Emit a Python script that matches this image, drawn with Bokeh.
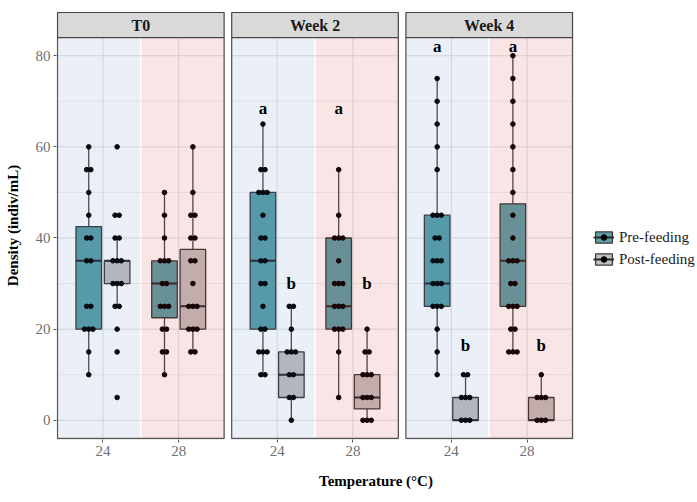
from collections import Counter
from bokeh.plotting import figure
from bokeh.models import ColumnDataSource, Range1d, FixedTicker, Legend, LegendItem
from bokeh.embed import file_html
from bokeh.resources import INLINE
from bokeh.core.properties import value

# ---------------- data ----------------
panels = ["T0", "Week 2", "Week 4"]
temps = ["24", "28"]
feeds = ["Pre-feeding", "Post-feeding"]

t0_24_pre = [60, 55, 55, 50, 45, 40, 40, 35, 35, 25, 25, 20, 20, 20, 15, 10]
t0_24_post = [60, 45, 45, 40, 40, 35, 35, 35, 30, 30, 30, 25, 25, 20, 15, 5]
t0_28_pre = [50, 45, 40, 35, 35, 35, 30, 30, 25, 25, 25, 20, 20, 15, 15, 10]
t0_28_post = [60, 50, 45, 45, 40, 40, 35, 35, 30, 25, 25, 25, 20, 20, 20, 15, 15]
w2_24_pre = [65, 55, 55, 50, 50, 50, 45, 40, 40, 35, 35, 30, 30, 25, 20, 20, 15, 15, 15, 10, 10]
w2_24_post = [25, 25, 20, 15, 15, 15, 10, 10, 5, 5, 0]
w2_28_pre = [55, 45, 40, 40, 40, 35, 30, 30, 30, 25, 25, 25, 20, 20, 20, 15, 5]
w2_28_post = [20, 15, 15, 10, 10, 10, 5, 5, 5, 0, 0, 0]
w4_24_pre = [75, 70, 65, 60, 55, 45, 45, 45, 40, 40, 35, 35, 35, 30, 30, 30, 25, 25, 25, 20, 15, 10]
w4_24_post = [10, 10, 5, 5, 5, 0, 0, 0]
w4_28_pre = [80, 75, 70, 65, 60, 55, 50, 45, 40, 35, 35, 35, 30, 30, 25, 25, 25, 20, 20, 15, 15, 15]
w4_28_post = [10, 5, 5, 5, 0, 0, 0]

# group order: panel, temperature, feeding
group_keys = [(pa, t, f) for pa in panels for t in temps for f in feeds]
group_points = [t0_24_pre, t0_24_post, t0_28_pre, t0_28_post,
                w2_24_pre, w2_24_post, w2_28_pre, w2_28_post,
                w4_24_pre, w4_24_post, w4_28_pre, w4_28_post]

# box statistics
box_q1 = [20, 30, 22.5, 20, 20, 5, 20, 2.5, 25, 0, 25, 0]
box_med = [35, 35, 30, 25, 35, 10, 25, 5, 30, 0, 35, 0]
box_q3 = [42.5, 35, 35, 37.5, 50, 15, 40, 10, 45, 5, 47.5, 5]
box_lo = [10, 25, 10, 15, 10, 0, 5, 0, 10, 0, 15, 0]
box_hi = [60, 40, 50, 60, 65, 25, 55, 20, 75, 10, 80, 10]

# significance letters
letter_keys = [("Week 2", "24", "Pre-feeding"), ("Week 2", "24", "Post-feeding"),
               ("Week 2", "28", "Pre-feeding"), ("Week 2", "28", "Post-feeding"),
               ("Week 4", "24", "Pre-feeding"), ("Week 4", "24", "Post-feeding"),
               ("Week 4", "28", "Pre-feeding"), ("Week 4", "28", "Post-feeding")]
letter_text = ["a", "b", "a", "b", "a", "b", "a", "b"]
letter_y = [68.5, 30, 68.5, 30, 82, 16.5, 82, 16.5]

y_ticks = [0, 20, 40, 60, 80]
y_minor = [10, 30, 50, 70]

# ---------------- layout helpers ----------------
STEP = 10.0          # distance between the two temperatures
PANEL_OFF = 23.0     # panel width (22) + gap (1)
DODGE = 1.875
BOX_W = 3.375
Y_LO, Y_HI = -4.0, 84.0
STRIP_H = 5.486
PX_PER_UNIT = 7.574

def temp_x(pa, t):
    return STEP + temps.index(t) * STEP + panels.index(pa) * PANEL_OFF

def grp_x(pa, t, f):
    return temp_x(pa, t) + (-DODGE if f == feeds[0] else DODGE)

def panel_left(pa):
    return temp_x(pa, temps[0]) - 0.6 * STEP

def panel_right(pa):
    return temp_x(pa, temps[-1]) + 0.6 * STEP

SERIF = "Liberation Serif"
fill_col = {feeds[0]: "#5BA1A7", feeds[1]: "#C2C0BF"}

W, H = 697, 502
BL, BR = 56, 2
x0 = panel_left(panels[0]) - 0.132
x1 = x0 + (W - BL - BR) / PX_PER_UNIT   # frame extends right to hold the legend

p = figure(width=W, height=H, output_backend="svg", toolbar_location=None,
           x_range=Range1d(x0, x1),
           y_range=Range1d(Y_LO - 0.22, Y_HI + STRIP_H + 0.22),
           min_border_left=BL, min_border_right=BR, min_border_top=11, min_border_bottom=63)
p.outline_line_color = None
p.xgrid.visible = False
p.ygrid.visible = False
p.background_fill_color = "white"
p.border_fill_color = "white"

# ---------------- grid lines ----------------
gx0, gx1, gy0, gy1 = [], [], [], []
mx0, mx1, my = [], [], []
for pa in panels:
    for v in y_ticks:
        gx0.append(panel_left(pa)); gx1.append(panel_right(pa)); gy0.append(v); gy1.append(v)
    for t in temps:
        gx0.append(temp_x(pa, t)); gx1.append(temp_x(pa, t)); gy0.append(Y_LO); gy1.append(Y_HI)
    for v in y_minor:
        mx0.append(panel_left(pa)); mx1.append(panel_right(pa)); my.append(v)
p.segment(x0=gx0, x1=gx1, y0=gy0, y1=gy1, line_color="#E0E0E0", line_width=1)
p.segment(x0=mx0, x1=mx1, y0=my, y1=my, line_color="#E8E8E8", line_width=0.7)

# ---------------- boxes ----------------
rend = {}
for f in feeds:
    idx = [i for i, k in enumerate(group_keys) if k[2] == f]
    xs = [grp_x(*group_keys[i]) for i in idx]
    src = ColumnDataSource(dict(
        x=xs, q1=[box_q1[i] for i in idx], q3=[box_q3[i] for i in idx],
        med=[box_med[i] for i in idx], lo=[box_lo[i] for i in idx], hi=[box_hi[i] for i in idx],
        xl=[x - BOX_W / 2 for x in xs], xr=[x + BOX_W / 2 for x in xs]))
    p.segment(x0="x", x1="x", y0="q3", y1="hi", source=src, line_color="#4A4A4A", line_width=1.3)
    p.segment(x0="x", x1="x", y0="lo", y1="q1", source=src, line_color="#4A4A4A", line_width=1.3)
    b = p.vbar(x="x", width=BOX_W, bottom="q1", top="q3", source=src,
               fill_color=fill_col[f], line_color="#3A3A3A", line_width=1.3)
    m = p.segment(x0="xl", x1="xr", y0="med", y1="med", source=src, line_color="#2A2A2A", line_width=2)
    rend[f] = [b, m]

# ---------------- jittered points ----------------
for f in feeds:
    px, py = [], []
    for k, vals in zip(group_keys, group_points):
        if k[2] != f:
            continue
        cx = grp_x(*k)
        for v, n in sorted(Counter(vals).items()):
            for j in range(n):
                px.append(cx + (j - (n - 1) / 2) * 0.55)
                py.append(v)
    s = p.scatter(px, py, size=4.6, color="black")
    rend[f].append(s)

# ---------------- temperature shading (drawn over the data) ----------------
bl, br, pl, pr = [], [], [], []
for pa in panels:
    mid = (temp_x(pa, temps[0]) + temp_x(pa, temps[1])) / 2
    bl.append(panel_left(pa) + 0.13); br.append(mid - 0.1)
    pl.append(mid + 0.1); pr.append(panel_right(pa))
p.quad(left=bl, right=br, bottom=Y_LO + 0.3, top=Y_HI, fill_color="#2D5FB9", fill_alpha=0.1, line_color=None)
p.quad(left=pl, right=pr, bottom=Y_LO, top=Y_HI, fill_color="#CD1E1E", fill_alpha=0.115, line_color=None)

# ---------------- panel borders and strips ----------------
lefts = [panel_left(pa) for pa in panels]
rights = [panel_right(pa) for pa in panels]
p.quad(left=lefts, right=rights, bottom=Y_LO, top=Y_HI, fill_color=None,
       line_color="#555555", line_width=1.3)
p.quad(left=lefts, right=rights, bottom=Y_HI, top=Y_HI + STRIP_H, fill_color="#D9D9D9",
       line_color="#444444", line_width=1.2)
p.text(x=[(l + r) / 2 for l, r in zip(lefts, rights)], y=[Y_HI + STRIP_H / 2] * 3, text=panels,
       text_align="center", text_baseline="middle", text_font=value(SERIF),
       text_font_style="bold", text_font_size="16px", text_color="#1A1A1A")

# ---------------- letters ----------------
p.text(x=[grp_x(*k) for k in letter_keys], y=letter_y, text=letter_text,
       text_align="center", text_baseline="middle", text_font=value(SERIF),
       text_font_style="bold", text_font_size="17px", text_color="black")

# ---------------- axes ----------------
xt = [temp_x(pa, t) for pa in panels for t in temps]
p.xaxis.ticker = FixedTicker(ticks=xt)
p.xaxis.major_label_overrides = {temp_x(pa, t): t for pa in panels for t in temps}
p.xaxis.bounds = (panel_left(panels[0]), panel_right(panels[-1]))
p.yaxis.ticker = FixedTicker(ticks=y_ticks)
p.yaxis.bounds = (Y_LO, Y_HI)
for ax in (p.xaxis[0], p.yaxis[0]):
    ax.axis_line_color = None
    ax.major_tick_in = 0
    ax.major_tick_out = 3
    ax.major_tick_line_color = "#555555"
    ax.minor_tick_line_color = None
    ax.major_label_text_font = SERIF
    ax.major_label_text_font_size = "15px"
    ax.major_label_text_color = "#707070"
    ax.major_label_standoff = 3
    ax.axis_label_text_font = SERIF
    ax.axis_label_text_font_style = "bold"
    ax.axis_label_text_font_size = "15px"
    ax.axis_label_text_color = "black"
p.xaxis.axis_label = "Temperature (\u00b0C)"
p.xaxis.axis_label_standoff = 14
p.yaxis.axis_label = "Density (indiv/mL)"
p.yaxis.axis_label_standoff = 12

# ---------------- legend ----------------
legend = Legend(items=[LegendItem(label=f, renderers=rend[f]) for f in feeds],
                location=(537, 170), border_line_color=None, background_fill_alpha=0,
                label_text_font=SERIF, label_text_font_size="15px", label_text_color="#1A1A1A",
                glyph_width=21, glyph_height=14, label_standoff=5, spacing=2, padding=0,
                margin=0, label_height=20)
p.add_layout(legend)

open("out.html", "w").write(file_html(p, INLINE))
